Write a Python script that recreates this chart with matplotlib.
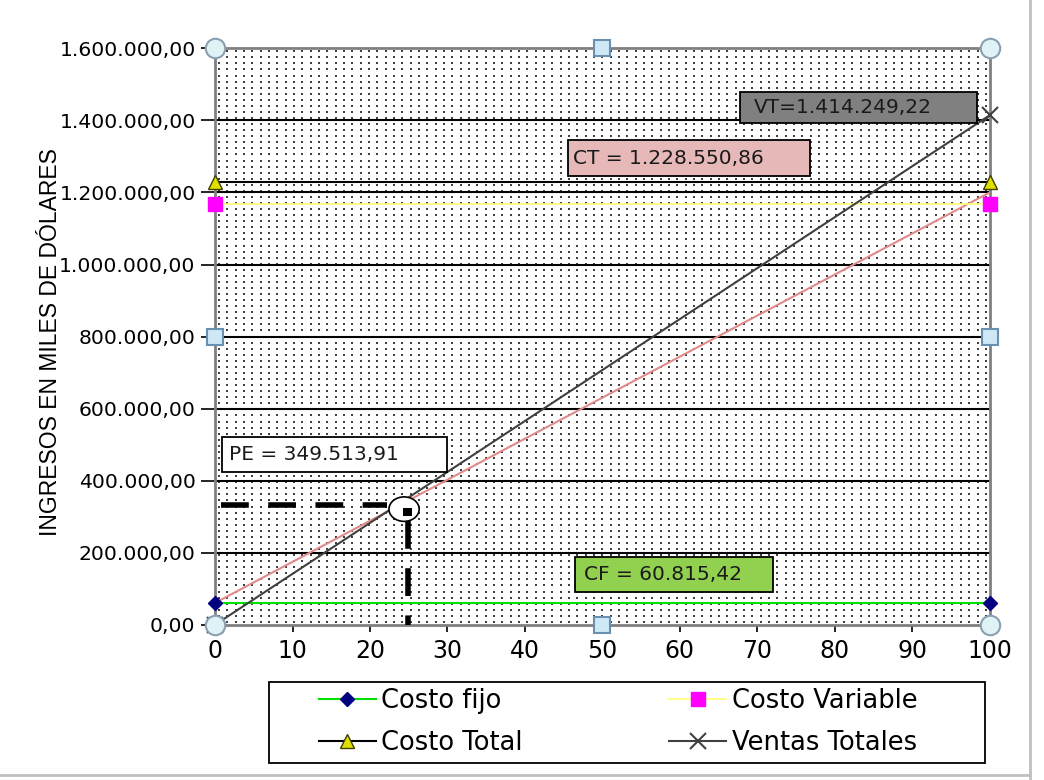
import numpy as np
import matplotlib.pyplot as plt
from matplotlib.patches import Rectangle, Ellipse
from matplotlib.ticker import FuncFormatter
from matplotlib.lines import Line2D

plt.rcParams['font.family'] = ['Liberation Sans', 'DejaVu Sans']

# data
x_units = [0, 100]
costo_fijo = [60815.42, 60815.42]
costo_variable = [1167735.44, 1167735.44]
costo_total = [1228550.86, 1228550.86]
ventas_totales = [0, 1414249.22]
ct_line = [60815.42, 1200000]      # drawn cost line (pink)
pe_x = 24.7
pe_y = 333000

def fmt(v, pos=None):
    s = f"{v:,.2f}"
    return s.replace(",", "X").replace(".", ",").replace("X", ".")

fig = plt.figure(figsize=(10.44, 7.8), dpi=100)
ax = fig.add_axes([0.206, 0.199, 0.742, 0.739])

ax.set_xlim(0, 100)
ax.set_ylim(0, 1600000)

# dotted background texture
gx, gy = np.meshgrid(np.linspace(0.005, 0.995, 93), np.linspace(0.005, 0.995, 95))
ax.scatter(gx.ravel(), gy.ravel(), s=1.4, marker='s', color='#404040', linewidths=0,
           transform=ax.transAxes, zorder=0)

for g in range(200000, 1600000, 200000):
    ax.axhline(g, color='black', lw=1.5, zorder=1)

ax.plot(x_units, ct_line, color='#e08a8a', lw=1.5, zorder=3)
ax.plot(x_units, costo_fijo, color='#00e000', lw=1.5, marker='D', ms=7,
        mfc='#000080', mec='#000080', zorder=4, clip_on=False, label='Costo fijo')
ax.plot(x_units, costo_variable, color='#ffff70', lw=1.2, marker='s', ms=10,
        mfc='#ff00ff', mec='#ff00ff', zorder=4, clip_on=False, label='Costo Variable')
ax.plot(x_units, costo_total, color='black', lw=1.5, marker='^', ms=10,
        mfc='#e0e000', mec='#404000', zorder=4, clip_on=False, label='Costo Total')
ax.plot(x_units, ventas_totales, color='#404040', lw=1.5, marker='x', ms=11,
        mec='#404040', mew=1.5, zorder=4, clip_on=False, label='Ventas Totales')

# break-even dashed guides
ax.plot([0.8, pe_x - 2.5], [pe_y, pe_y], color='black', lw=4, ls=(0, (5, 3.5)), zorder=5)
ax.plot([pe_x + 0.2, pe_x + 0.2], [pe_y - 45000, 0], color='black', lw=4, ls=(0, (5, 3.5)), zorder=5)
ax.add_patch(Ellipse((pe_x - 0.3, pe_y - 12000), 3.9, 68000, facecolor='white',
                     edgecolor='black', lw=1.2, zorder=6))
ax.add_patch(Rectangle((pe_x - 0.4, pe_y - 32000), 1.1, 24000, facecolor='black', zorder=7))

# value boxes: (x0, x1, y0, y1, text x, label, face)
boxes = [
    (67.7, 98.3, 1392000, 1478000, 69.6, 'VT=1.414.249,22', '#808080'),
    (45.5, 76.8, 1245000, 1345000, 46.2, 'CT = 1.228.550,86', '#e6b8b7'),
    (0.9, 29.9, 424000, 521000, 1.8, 'PE = 349.513,91', 'white'),
    (46.5, 72.0, 91500, 188600, 47.6, 'CF = 60.815,42', '#92d050'),
]
for x0, x1, y0, y1, tx, lab, fc in boxes:
    ax.add_patch(Rectangle((x0, y0), x1 - x0, y1 - y0, facecolor=fc, edgecolor='black',
                           lw=1.3, zorder=8))
    ax.text(tx, (y0 + y1) / 2, lab, fontsize=14.5, family='DejaVu Sans', ha='left',
            va='center', color='#1a1a1a', zorder=9)

# axes styling
ax.set_yticks(np.arange(0, 1600001, 200000))
ax.yaxis.set_major_formatter(FuncFormatter(fmt))
ax.set_xticks(np.arange(0, 101, 10))
ax.tick_params(axis='y', labelsize=14.7, length=10, width=1.2, direction='out', pad=4)
ax.tick_params(axis='x', labelsize=17, length=5, width=1.2, direction='out', pad=5)
for lbl in ax.get_xticklabels() + ax.get_yticklabels():
    lbl.set_family('DejaVu Sans')
for s in ax.spines.values():
    s.set_color('#808080')
    s.set_linewidth(2)
ax.set_ylabel('INGRESOS EN MILES DE DÓLARES', fontsize=16.5)
ax.yaxis.set_label_coords(-0.197, 0.49)

# selection handles (chart frame)
handles_c = [(0, 0), (0, 1), (1, 1), (1, 0)]
handles_s = [(0.5, 1), (0, 0.5), (1, 0.5), (0.5, 0)]
for hx, hy in handles_c:
    ax.plot(hx, hy, 'o', ms=14, mfc='#dff3f7', mec='#8aa0b0', mew=1.5,
            transform=ax.transAxes, clip_on=False, zorder=10)
for hx, hy in handles_s:
    ax.plot(hx, hy, 's', ms=11, mfc='#cfe8f5', mec='#6a90b0', mew=1.5,
            transform=ax.transAxes, clip_on=False, zorder=10)

# legend
h = ax.get_legend_handles_labels()
order = [0, 2, 1, 3]
leg = fig.legend([h[0][i] for i in order], [h[1][i] for i in order], ncol=2,
                 loc='center left', bbox_to_anchor=(319 / 1044, 1 - 722 / 780),
                 prop={'family': 'DejaVu Sans', 'size': 18.5},
                 frameon=False, handlelength=2.2, handletextpad=0.23, columnspacing=5.7,
                 borderpad=0.0, labelspacing=0.6, borderaxespad=0)
fig.add_artist(Rectangle((269 / 1044, 1 - 763 / 780), 716 / 1044, 81 / 780,
                         transform=fig.transFigure, facecolor='none', edgecolor='black', lw=1.3))

# window edges
fig.add_artist(Line2D([0.987, 0.987], [0.0, 1.0], color='#c0c0c0', lw=2))
fig.add_artist(Line2D([0.0, 0.987], [0.006, 0.006], color='#c0c0c0', lw=2))

fig.savefig('out.png', dpi=100)
